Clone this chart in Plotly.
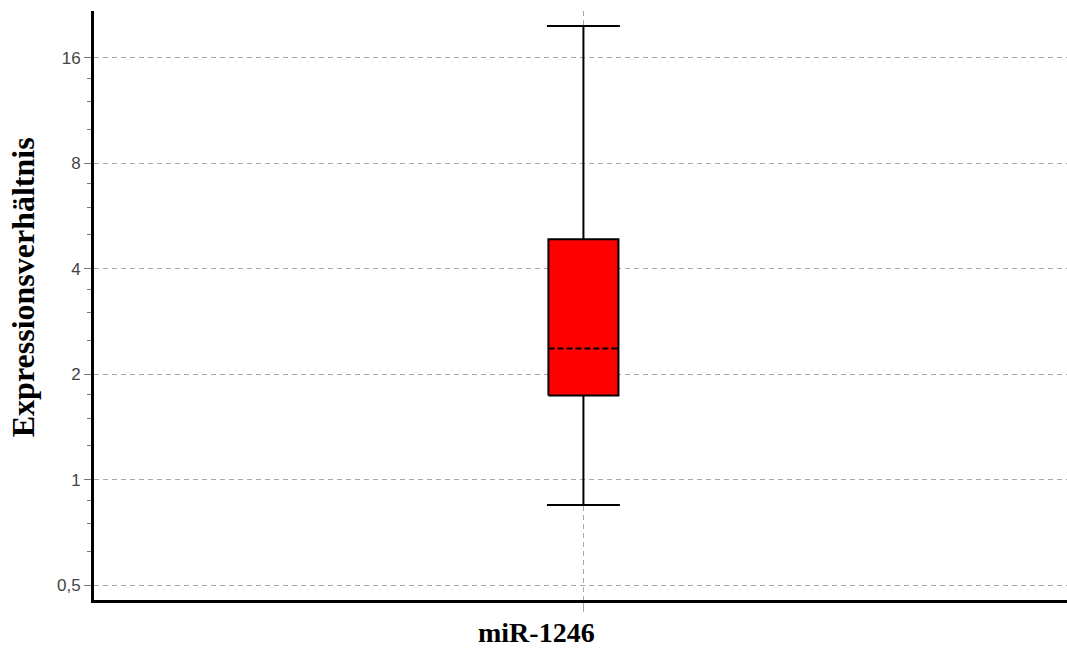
import plotly.graph_objects as go

# ---- data ----
category = "miR-1246"
upper_whisker = 19.7
q3 = 4.86
median = 2.37
q1 = 1.74
lower_whisker = 0.847

y_tickvals = [0.5, 1, 2, 4, 8, 16]
y_ticktext = ["0,5", "1", "2", "4", "8", "16"]
y_minor_vals = [0.625, 0.75, 0.875, 1.25, 1.5, 1.75, 2.5, 3, 3.5, 5, 6, 7, 10, 12, 14]
y_axis_title = "Expressionsverhältnis"

# ---- styles ----
x_center = 0
box_half = 0.072
cap_half = 0.075
BOX_FILL = "#ff0000"
LINE = "#000000"
GRID = "#a8a8a8"
SERIF = "Liberation Serif, Times New Roman, serif"
SANS = "Liberation Sans, Arial, sans-serif"

fig = go.Figure()

# box body
fig.add_trace(go.Scatter(
    x=[x_center - box_half, x_center + box_half, x_center + box_half, x_center - box_half, x_center - box_half],
    y=[q1, q1, q3, q3, q1],
    mode="lines", fill="toself", fillcolor=BOX_FILL,
    line=dict(color=LINE, width=2), hoverinfo="skip", showlegend=False))
# whiskers
fig.add_trace(go.Scatter(
    x=[x_center, x_center, None, x_center, x_center],
    y=[q3, upper_whisker, None, q1, lower_whisker],
    mode="lines", line=dict(color=LINE, width=2), hoverinfo="skip", showlegend=False))
# caps
fig.add_trace(go.Scatter(
    x=[x_center - cap_half, x_center + cap_half, None, x_center - cap_half, x_center + cap_half],
    y=[upper_whisker, upper_whisker, None, lower_whisker, lower_whisker],
    mode="lines", line=dict(color=LINE, width=2), hoverinfo="skip", showlegend=False))
# median (dashed)
fig.add_trace(go.Scatter(
    x=[x_center - box_half, x_center + box_half],
    y=[median, median],
    mode="lines", line=dict(color=LINE, width=2, dash="6px,3px"), hoverinfo="skip", showlegend=False))

fig.update_layout(
    width=1067, height=652,
    margin=dict(l=94, r=0, t=11, b=52),
    paper_bgcolor="white", plot_bgcolor="white",
    showlegend=False,
    xaxis=dict(
        type="linear", range=[-1.006, 0.994],
        tickmode="array", tickvals=[x_center], ticktext=[""],
        ticks="outside", ticklen=9, tickcolor=GRID, tickwidth=1,
        showgrid=True, gridcolor=GRID, gridwidth=1, griddash="5px,4px",
        showline=True, linecolor=LINE, linewidth=3,
        zeroline=False, fixedrange=True),
    yaxis=dict(
        type="log", range=[-0.3429, 1.3375],
        tickmode="array", tickvals=y_tickvals, ticktext=y_ticktext,
        ticks="outside", ticklen=7, tickcolor="#777777", tickwidth=1,
        tickfont=dict(family=SANS, size=17, color="#444444"),
        minor=dict(tickmode="array", tickvals=y_minor_vals, ticks="outside",
                   ticklen=4, tickcolor="#777777", tickwidth=1, showgrid=False),
        showgrid=True, gridcolor=GRID, gridwidth=1, griddash="5px,4px",
        showline=True, linecolor=LINE, linewidth=3,
        zeroline=False, fixedrange=True),
    annotations=[
        dict(text=category, xref="paper", yref="paper", x=0.4543, y=0,
             xanchor="center", yanchor="top", yshift=-16, showarrow=False,
             borderpad=0,
             font=dict(family=SERIF, size=28, color="#000000", weight="bold")),
        dict(text=y_axis_title, xref="paper", yref="paper", x=0, y=0.531,
             xanchor="center", yanchor="middle", xshift=-71, textangle=-90,
             showarrow=False,
             font=dict(family=SERIF, size=32, color="#000000", weight="bold")),
    ],
)

fig.write_html("out.html")
